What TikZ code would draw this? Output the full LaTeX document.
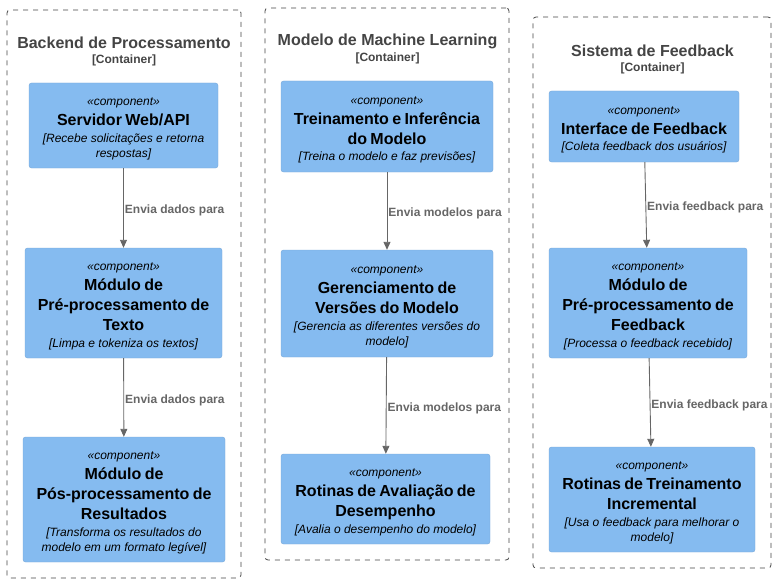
\documentclass[tikz,border=0pt]{standalone}
\usepackage{fontspec}
\setmainfont{Liberation Sans}
\usepackage{tikz}
\usetikzlibrary{arrows.meta, positioning}
\usepackage{xcolor}
\definecolor{compfill}{HTML}{85BBF0}
\definecolor{compline}{HTML}{78A8D8}
\definecolor{boundgrey}{HTML}{444444}
\definecolor{relgrey}{HTML}{666666}
\tikzset{%
	every component/.style={
		draw=compline,
		fill=compfill,
		rounded corners=2.5pt,
		align=center,
		inner sep=2pt,
		text=black
	},
	container boundary/.style={
		draw=boundgrey,
		dash pattern=on 5pt off 5pt,
		rounded corners=3pt,
		line width=0.8pt
	},
	boundary title/.style={
		text=boundgrey,
		font=\fontsize{16}{19}\selectfont\bfseries
	},
	boundary tag/.style={
		text=boundgrey,
		font=\fontsize{12}{14}\selectfont\bfseries
	},
	relation/.style={
		draw=relgrey,
		line width=0.9pt,
		-{Triangle[length=8pt,width=7pt]}
	},
	relation label/.style={
		right,
		yshift=-2.5pt,
		inner sep=1pt,
		text=relgrey,
		font=\fontsize{12}{14}\selectfont\bfseries
	},
}
\newcommand{\comptext}[2]{%
	{\fontsize{12}{15}\selectfont\itshape\rule{0pt}{14.5pt}«component»\par}%
	{\fontsize{16}{20}\selectfont\bfseries #1\par}%
	\vspace{1.5pt}%
	{\fontsize{12}{15}\selectfont\itshape [#2]\par}}

\begin{document}
\begin{tikzpicture}[x=1pt, y=-1pt]
	
	\useasboundingbox (0,0) rectangle (776,583);
	
	% Containers
	\node[container boundary, minimum width=234pt, minimum height=568pt] (backend) at (124,294) {};
	\node[boundary title] (backend title) at (124,43) {Backend de Processamento};
	\node[boundary tag] (backend tag) at (124,60) {[Container]};
	
	\node[container boundary, minimum width=244pt, minimum height=552pt] (mlmodel) at (387,284) {};
	\node[boundary title] (mlmodel title) at (387.5,41) {Modelo de Machine Learning};
	\node[boundary tag] (mlmodel tag) at (387.5,58) {[Container]};
	
	\node[container boundary, minimum width=238pt, minimum height=551pt] (feedback) at (652,292.5) {};
	\node[boundary title] (feedback title) at (652.5,51) {Sistema de Feedback};
	\node[boundary tag] (feedback tag) at (652.5,68) {[Container]};
	
	% Backend components
	\node[every component, minimum width=189pt, minimum height=85pt, text width=185pt] (srv) at (123.5,125.5)
		{\comptext{Servidor Web/API}{Recebe solicitações e retorna\\respostas}};
	\node[every component, minimum width=197pt, minimum height=110pt, text width=193pt] (preproc) at (123.5,303)
		{\comptext{Módulo de\\Pré-processamento de\\Texto}{Limpa e tokeniza os textos}};
	\node[every component, minimum width=202pt, minimum height=125pt, text width=198pt] (posproc) at (124,499.5)
		{\comptext{Módulo de\\Pós-processamento de\\Resultados}{Transforma os resultados do\\modelo em um formato legível}};
	
	% Machine learning components
	\node[every component, minimum width=212pt, minimum height=91pt, text width=208pt] (treino) at (387,126.5)
		{\comptext{Treinamento e Inferência\\do Modelo}{Treina o modelo e faz previsões}};
	\node[every component, minimum width=212pt, minimum height=107pt, text width=208pt] (versoes) at (387,303.5)
		{\comptext{Gerenciamento de\\Versões do Modelo}{Gerencia as diferentes versões do\\modelo}};
	\node[every component, minimum width=209pt, minimum height=90pt, text width=205pt] (avalia) at (385.5,499)
		{\comptext{Rotinas de Avaliação de\\Desempenho}{Avalia o desempenho do modelo}};
	
	% Feedback components
	\node[every component, minimum width=190pt, minimum height=71pt, text width=186pt] (interface) at (644,126.5)
		{\comptext{Interface de Feedback}{Coleta feedback dos usuários}};
	\node[every component, minimum width=198pt, minimum height=110pt, text width=194pt] (prefb) at (648,303)
		{\comptext{Módulo de\\Pré-processamento de\\Feedback}{Processa o feedback recebido}};
	\node[every component, minimum width=206pt, minimum height=105pt, text width=202pt] (incremental) at (652,499.5)
		{\comptext{Rotinas de Treinamento\\Incremental}{Usa o feedback para melhorar o\\modelo}};
	
	% Relations
	\draw[relation] (srv) -- node[relation label]{Envia dados para} (preproc);
	\draw[relation] (preproc) -- node[relation label]{Envia dados para} (posproc);
	\draw[relation] (treino) -- node[relation label]{Envia modelos para} (versoes);
	\draw[relation] (versoes) -- node[relation label]{Envia modelos para} (avalia);
	\draw[relation] (interface) -- node[relation label]{Envia feedback para} (prefb);
	\draw[relation] (prefb) -- node[relation label]{Envia feedback para} (incremental);
	
\end{tikzpicture}
\end{document}
